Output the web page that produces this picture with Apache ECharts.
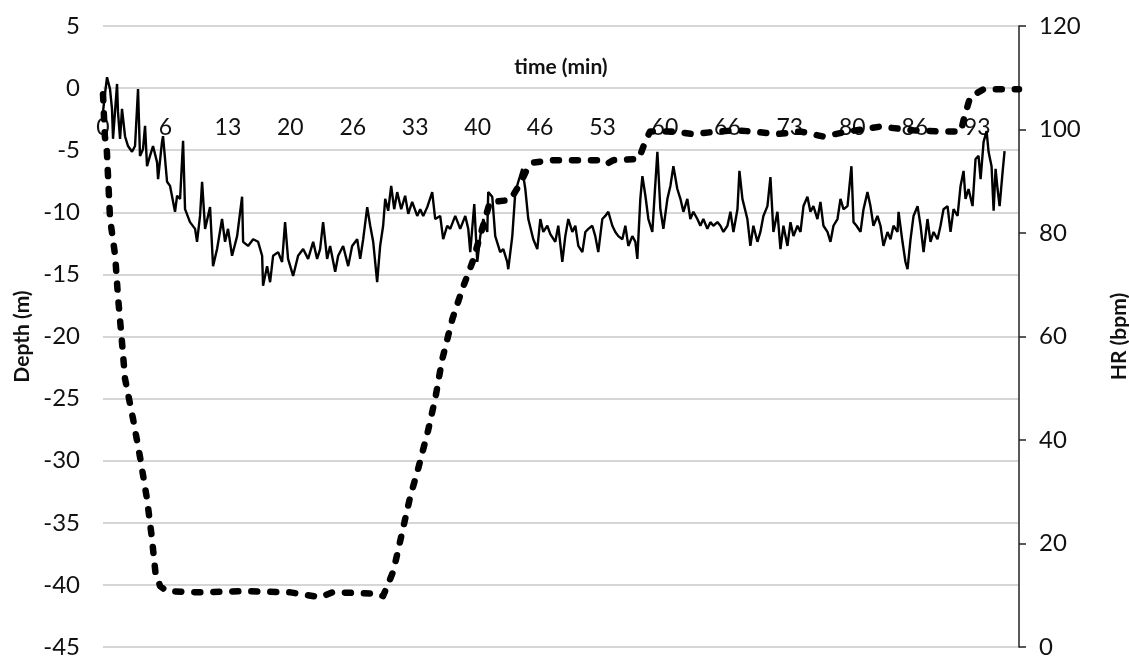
<!DOCTYPE html>
<html>
<head>
<meta charset="utf-8">
<title>Depth and HR</title>
<script src="https://cdn.jsdelivr.net/npm/echarts@6/dist/echarts.min.js"></script>
<style>
  html, body { margin: 0; padding: 0; background: #fff; }
  #chart { width: 1129px; height: 659px; }
</style>
</head>
<body>
<div id="chart"></div>
<script>
// x axis: time in minutes, labels every 20/3 min (Excel-style truncated)
const timeMax = 97.8
const timeLabelStep = 20 / 3

// dive profile: [minute, depth m]
const depthMin = [0, 0.2, 0.4, 0.75, 1.3, 1.6, 2.0, 2.35, 3.2, 4.0, 4.7, 5.2, 5.6, 6.1, 6.8,
  10, 15, 20, 23.2, 24.5, 29.3, 29.9,
  31.0, 31.9, 32.8, 33.7, 34.7, 35.5, 36.2, 37.3, 38.4, 39.5, 41.3, 43.5, 44.6, 45.3, 45.9,
  48.1, 53.0, 53.8, 54.5, 57.2, 57.9, 58.4, 60.9, 63.0, 65.6, 67.7, 69.4, 72.0, 74.5, 76.9,
  79.5, 83.0, 86.5, 89.7, 91.6, 91.9, 92.6, 94.0, 97.8]
const depthM = [-0.5, -3.9, -4.9, -10.5, -13.5, -16.8, -20.2, -23.4, -26.6, -29.9, -33.1, -36.1, -39, -40.1, -40.5,
  -40.6, -40.5, -40.6, -41.0, -40.6, -40.7, -40.9,
  -38.9, -35.9, -32.9, -30.5, -27.6, -24.9, -21.9, -18.6, -16.1, -13.9, -9.2, -9.0, -7.6, -6.5, -6.0,
  -5.8, -5.8, -6.1, -5.8, -5.7, -4.3, -3.5, -3.5, -3.7, -3.5, -3.4, -3.5, -3.7, -3.5, -3.9,
  -3.5, -3.1, -3.4, -3.5, -3.5, -2.5, -0.7, -0.1, -0.1]

// heart rate: [minute, bpm]
const hrReadings = [
  [0, 103.4], [0.21, 106.9], [0.43, 110.1], [0.75, 107.8], [0.96, 104.0], [1.07, 98.2], [1.5, 108.8], [1.6, 103.4],
  [1.82, 98.2], [2.03, 104.0], [2.35, 98.7], [2.67, 96.8], [3.1, 95.7], [3.42, 96.8], [3.74, 107.8], [3.95, 94.9],
  [4.27, 96.2], [4.49, 100.7], [4.7, 92.9], [5.02, 94.9], [5.34, 96.8], [5.77, 93.7], [5.88, 90.4], [6.3, 97.6],
  [6.41, 98.7], [6.84, 89.9], [7.16, 89.1], [7.69, 84.1], [7.91, 87.2], [8.23, 86.6], [8.55, 97.8], [8.76, 84.6],
  [9.29, 82.1], [9.83, 80.8], [10.04, 78.3], [10.36, 83.3], [10.58, 89.9], [10.9, 80.8], [11.43, 85.0], [11.75, 73.6],
  [12.18, 76.9], [12.71, 82.7], [13.03, 78.3], [13.35, 80.8], [13.78, 75.6], [14.32, 79.4], [14.85, 87.0], [14.96, 78.3],
  [15.49, 77.5], [16.03, 78.8], [16.56, 78.3], [16.99, 75.6], [17.09, 69.8], [17.52, 73.6], [17.84, 70.5], [18.16, 75.6],
  [18.7, 76.3], [19.12, 74.4], [19.44, 82.1], [19.76, 75.0], [20.3, 71.7], [20.83, 75.6], [21.37, 76.9], [21.9, 75.0],
  [22.44, 78.3], [22.86, 75.0], [23.18, 76.9], [23.5, 82.1], [23.93, 75.0], [24.25, 77.5], [24.79, 72.5], [25.11, 75.6],
  [25.64, 77.5], [26.18, 73.6], [26.6, 77.5], [27.14, 78.8], [27.46, 75.0], [27.78, 78.8], [28.21, 85.0], [28.53, 81.4],
  [28.85, 78.3], [29.27, 70.5], [29.59, 77.5], [29.91, 81.4], [30.13, 86.6], [30.45, 84.3], [30.77, 89.1], [31.09, 84.6],
  [31.41, 87.9], [31.84, 84.6], [32.26, 87.2], [32.59, 83.7], [33.01, 86.0], [33.55, 83.3], [33.87, 84.6], [34.19, 83.3],
  [34.62, 85.0], [35.15, 87.9], [35.47, 82.7], [36.0, 83.3], [36.32, 78.8], [36.75, 81.4], [37.07, 80.8], [37.61, 83.3],
  [38.14, 80.8], [38.68, 83.3], [39.0, 80.8], [39.21, 76.3], [39.64, 85.6], [39.96, 74.4], [40.28, 79.4], [40.6, 82.7],
  [41.03, 80.2], [41.13, 87.9], [41.56, 87.0], [41.88, 79.4], [42.41, 76.3], [42.74, 76.9], [43.16, 74.4], [43.27, 73.0],
  [43.7, 79.4], [44.02, 87.9], [44.34, 89.9], [44.76, 92.4], [45.09, 88.5], [45.41, 82.7], [45.94, 78.8], [46.37, 76.9],
  [46.69, 82.7], [47.01, 80.2], [47.44, 81.4], [47.76, 79.8], [48.29, 78.3], [48.61, 81.4], [49.04, 74.4], [49.36, 79.4],
  [49.68, 82.7], [50.11, 80.2], [50.43, 81.4], [50.75, 77.5], [51.18, 76.3], [51.5, 80.2], [51.82, 80.8], [52.24, 81.4],
  [52.56, 79.4], [52.88, 76.3], [53.31, 82.7], [53.63, 83.3], [53.95, 84.1], [54.38, 81.4], [54.7, 80.2], [55.02, 79.4],
  [55.45, 78.8], [55.77, 81.4], [56.09, 77.5], [56.52, 79.4], [56.84, 78.3], [57.05, 75.0], [57.37, 86.6], [57.59, 91.0],
  [57.91, 87.2], [58.23, 82.7], [58.65, 80.2], [58.87, 86.6], [59.19, 95.7], [59.51, 84.6], [59.83, 80.8], [60.26, 86.6],
  [60.58, 89.1], [60.9, 92.9], [61.32, 88.5], [61.65, 86.6], [61.97, 84.1], [62.39, 86.6], [62.71, 82.7], [63.03, 84.1],
  [63.46, 82.7], [63.78, 81.4], [64.1, 82.7], [64.53, 80.8], [64.85, 82.1], [65.17, 81.4], [65.6, 82.1], [65.92, 81.4],
  [66.24, 80.2], [66.67, 81.4], [66.99, 84.1], [67.31, 80.2], [67.74, 84.6], [67.95, 92.0], [68.27, 86.6], [68.8, 82.7],
  [69.12, 77.5], [69.44, 81.4], [69.87, 78.3], [70.19, 80.2], [70.51, 83.3], [70.94, 85.2], [71.26, 90.8], [71.58, 80.2],
  [72.01, 84.1], [72.33, 76.9], [72.65, 81.4], [73.08, 77.5], [73.4, 82.1], [73.72, 79.4], [74.15, 81.4], [74.47, 80.2],
  [74.79, 85.2], [75.21, 87.0], [75.53, 84.1], [75.85, 85.2], [76.28, 82.7], [76.6, 86.0], [76.92, 81.4], [77.35, 80.2],
  [77.67, 78.3], [77.99, 81.4], [78.42, 82.7], [78.74, 86.6], [79.06, 84.6], [79.49, 85.2], [79.91, 92.9], [80.13, 82.1],
  [80.45, 81.4], [80.88, 80.2], [81.2, 84.6], [81.62, 87.9], [81.94, 85.2], [82.26, 81.4], [82.69, 83.3], [83.01, 81.4],
  [83.33, 77.5], [83.76, 80.2], [84.08, 78.8], [84.4, 81.4], [84.83, 80.2], [84.94, 84.1], [85.36, 78.3], [85.68, 74.4],
  [85.9, 73.0], [86.22, 78.8], [86.54, 83.3], [86.97, 85.2], [87.29, 81.4], [87.61, 76.3], [88.03, 82.7], [88.35, 78.3],
  [88.68, 80.2], [89.1, 78.8], [89.42, 81.4], [89.74, 84.6], [90.17, 85.2], [90.49, 80.2], [90.81, 84.6], [91.24, 83.3],
  [91.56, 89.1], [91.88, 92.0], [92.09, 86.6], [92.41, 88.5], [92.84, 85.2], [93.16, 94.3], [93.48, 94.9], [93.7, 90.4],
  [94.02, 97.6], [94.34, 99.7], [94.55, 95.7], [94.87, 92.9], [95.09, 84.3], [95.3, 92.4], [95.51, 88.5], [95.73, 85.2],
  [96.05, 91.8], [96.26, 95.8]
]

const chart = echarts.init(document.getElementById('chart'), null, { renderer: 'canvas' })

const labelFont = { fontFamily: 'Lato', fontSize: 24, color: '#111' }
const nameFont = { fontFamily: 'Lato', fontSize: 21, fontWeight: 'bold', color: '#111' }

// plot area in px; the time axis sits on the depth = 0 gridline
const plotTop = 26
const depthTop = 5
const depthBottom = -45
const plotBottom = 12
const plotHeight = 659 - plotTop - plotBottom
const zeroOffset = Math.round(plotHeight * depthTop / (depthTop - depthBottom))

const option = {
  animation: false,
  backgroundColor: '#fff',
  grid: { left: 103, right: 110, top: plotTop, bottom: plotBottom, containLabel: false, outerBoundsMode: 'none' },
  xAxis: {
    type: 'value',
    min: 0,
    max: timeMax,
    interval: timeLabelStep,
    position: 'top',
    offset: -zeroOffset,
    name: 'time (min)',
    nameLocation: 'middle',
    nameGap: 10,
    nameTextStyle: nameFont,
    axisLine: { show: false, onZero: false },
    axisTick: { show: false },
    splitLine: { show: false },
    axisLabel: {
      ...labelFont,
      fontSize: 23,
      inside: true,
      margin: 28,
      showMaxLabel: false,
      formatter: (v) => String(Math.floor(v + 1e-6))
    }
  },
  yAxis: [
    {
      type: 'value',
      min: depthBottom,
      max: depthTop,
      interval: 5,
      name: 'Depth (m)',
      nameLocation: 'middle',
      nameRotate: 90,
      nameGap: 68,
      nameTextStyle: nameFont,
      axisLine: { show: false, onZero: false },
      axisTick: { show: false },
      axisLabel: { ...labelFont, margin: 23 },
      splitLine: { lineStyle: { color: '#c8c8c8', width: 1.5 } }
    },
    {
      type: 'value',
      min: 0,
      max: 120,
      interval: 20,
      position: 'right',
      name: 'HR (bpm)',
      nameLocation: 'middle',
      nameRotate: 90,
      nameGap: 90,
      nameTextStyle: nameFont,
      axisLine: { show: true, onZero: false, lineStyle: { color: '#222', width: 1.5 } },
      axisTick: { show: true, inside: false, length: 7, lineStyle: { color: '#222', width: 1.5 } },
      axisLabel: { ...labelFont, margin: 20 },
      splitLine: { show: false }
    }
  ],
  series: [
    {
      name: 'HR',
      type: 'line',
      yAxisIndex: 1,
      data: hrReadings,
      showSymbol: false,
      lineStyle: { color: '#000', width: 2.4 },
      z: 2
    },
    {
      name: 'Depth',
      type: 'line',
      yAxisIndex: 0,
      data: depthMin.map((t, i) => [t, depthM[i]]),
      showSymbol: false,
      lineStyle: { color: '#000', width: 6.5, type: [6, 13], cap: 'round', join: 'round' },
      z: 3
    }
  ]
}

chart.setOption(option)
</script>
</body>
</html>
